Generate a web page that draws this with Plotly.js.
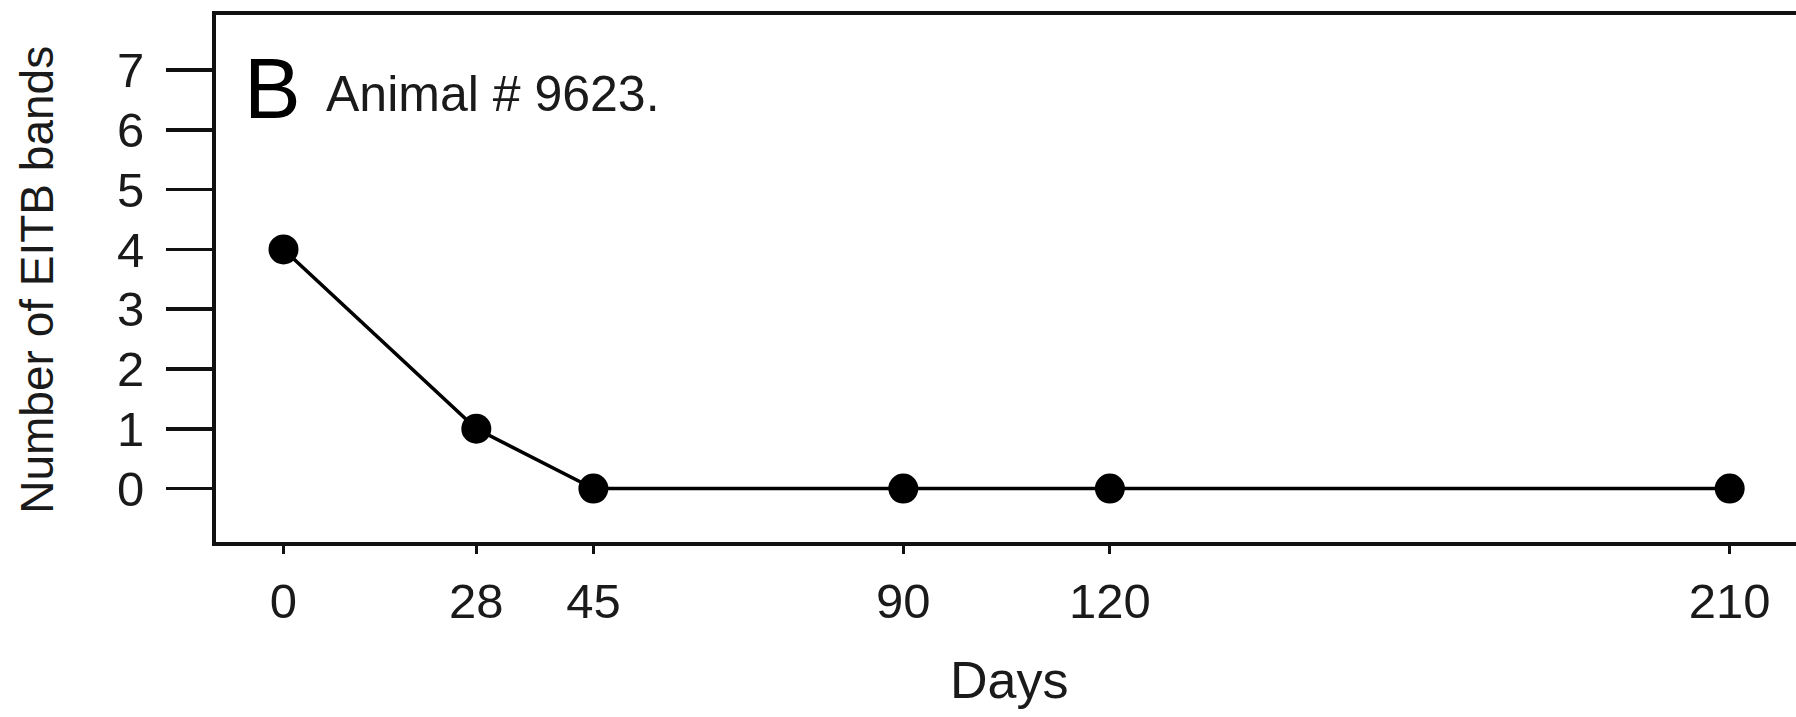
<!DOCTYPE html>
<html>
<head>
<meta charset="utf-8">
<script src="https://cdn.plot.ly/plotly-3.0.1.min.js"></script>
<style>
  html, body { margin: 0; padding: 0; background: #ffffff; overflow: hidden; width: 1796px; height: 717px; }
  #chart { width: 1804px; height: 717px; }
</style>
</head>
<body>
<div id="chart"></div>
<script>
// Data
const days = [0, 28, 45, 90, 120, 210];
const eitbBands = [4, 1, 0, 0, 0, 0];
const xTickLabels = ["0", "28", "45", "90", "120", "210"];
const yTickValues = [0, 1, 2, 3, 4, 5, 6, 7];

const panelLetter = "B";
const panelLabel = "Animal # 9623.";
const xTitle = "Days";
const yTitle = "Number of EITB bands";

const W = 1804, H = 717;
const M = { l: 216, r: 2, t: 15, b: 174.5 };
const pw = W - M.l - M.r;
const ph = H - M.t - M.b;
const px = v => (v - M.l) / pw;
const py = v => (H - M.b - v) / ph;

const FONT = "Liberation Sans, Arial, Helvetica, sans-serif";
const TXT = "#1a1a1a";

const trace = {
  x: days,
  y: eitbBands,
  type: "scatter",
  mode: "lines+markers",
  line: { color: "#000000", width: 3.5 },
  marker: { color: "#000000", size: 30 },
  cliponaxis: false,
  showlegend: false,
  hoverinfo: "x+y"
};

const layout = {
  width: W,
  height: H,
  margin: M,
  paper_bgcolor: "#ffffff",
  plot_bgcolor: "#ffffff",
  font: { family: FONT, color: TXT },
  showlegend: false,
  xaxis: {
    range: [-9.8, 220.5],
    tickmode: "array",
    tickvals: days,
    ticktext: xTickLabels,
    ticks: "outside",
    ticklen: 8,
    tickwidth: 3,
    tickcolor: "#111111",
    tickfont: { family: FONT, size: 49, color: TXT },
    ticklabelstandoff: 5,
    showline: true,
    linewidth: 4,
    linecolor: "#111111",
    mirror: true,
    showgrid: false,
    zeroline: false
  },
  yaxis: {
    range: [-0.894, 7.92],
    tickmode: "array",
    tickvals: yTickValues,
    ticks: "outside",
    ticklen: 46,
    tickwidth: 3.5,
    tickcolor: "#111111",
    tickfont: { family: FONT, size: 49, color: TXT },
    ticklabelstandoff: 12,
    showline: true,
    linewidth: 4,
    linecolor: "#111111",
    mirror: true,
    showgrid: false,
    zeroline: false
  },
  annotations: [
    {
      text: panelLetter,
      xref: "paper", yref: "paper",
      x: px(243), y: py(89),
      xanchor: "left", yanchor: "middle",
      showarrow: false, borderpad: 0,
      font: { family: FONT, size: 85, color: "#000000" }
    },
    {
      text: panelLabel,
      xref: "paper", yref: "paper",
      x: px(325), y: py(94),
      xanchor: "left", yanchor: "middle",
      showarrow: false, borderpad: 0,
      font: { family: FONT, size: 50, color: TXT }
    },
    {
      text: xTitle,
      xref: "paper", yref: "paper",
      x: px(1009), y: py(681),
      xanchor: "center", yanchor: "middle",
      showarrow: false, borderpad: 0,
      font: { family: FONT, size: 52, color: TXT }
    },
    {
      text: yTitle,
      xref: "paper", yref: "paper",
      x: px(37), y: py(280),
      xanchor: "center", yanchor: "middle",
      textangle: -90,
      showarrow: false, borderpad: 0,
      font: { family: FONT, size: 46, color: TXT }
    }
  ]
};

Plotly.newPlot("chart", [trace], layout, { displayModeBar: false, staticPlot: true });
</script>
</body>
</html>
